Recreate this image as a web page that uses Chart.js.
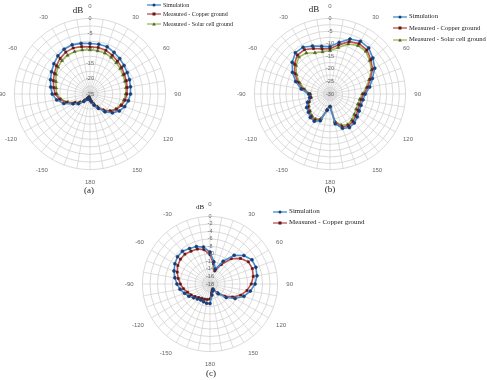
<!DOCTYPE html>
<html>
<head>
<meta charset="utf-8">
<script src="https://cdn.jsdelivr.net/npm/chart.js@4.4.1/dist/chart.umd.min.js"></script>
<style>
  body { margin: 0; background: #fff; }
  #wrap { position: relative; width: 487px; height: 380px; overflow: hidden; font-family: "Liberation Serif", serif; }
  canvas { position: absolute; }
  .t { position: absolute; transform: translate(-50%, -50%); white-space: nowrap; color: #222; line-height: 1; }
  .lg { position: absolute; white-space: nowrap; color: #222; line-height: 1; }
  .lg div { display: flex; align-items: center; }
  .lg svg { margin-right: 2px; }
</style>
</head>
<body>
<div id="wrap">
  <canvas id="pa" width="186" height="186" style="left:-3px;top:1px"></canvas>
  <canvas id="pb" width="186" height="186" style="left:237px;top:1px"></canvas>
  <canvas id="pc" width="170" height="170" style="left:125px;top:199px"></canvas>

  <div class="t" style="left:78px;top:10px;font-size:9px">dB</div>
  <div class="t" style="left:314px;top:9px;font-size:9px">dB</div>
  <div class="t" style="left:200px;top:207px;font-size:7px">dB</div>

  <div class="t" style="left:89px;top:190px;font-size:9px">(a)</div>
  <div class="t" style="left:330px;top:189px;font-size:9px">(b)</div>
  <div class="t" style="left:211px;top:373px;font-size:9px">(c)</div>

  <div class="lg" id="lga" style="left:147px;top:0px;font-size:6px"></div>
  <div class="lg" id="lgb" style="left:393px;top:11px;font-size:6.6px"></div>
  <div class="lg" id="lgc" style="left:273px;top:206px;font-size:7px"></div>
</div>
<script>
// spoke angles (degrees, clockwise from top), one per measurement
const ANGLES = [0,10,20,30,40,50,60,70,80,90,100,110,120,130,140,150,160,170,
                180,190,200,210,220,230,240,250,260,270,280,290,300,310,320,330,340,350];

// gain in dB at each angle above
const SIM_A    = [-8.3,-8.3,-8.4,-9.1,-9.7,-10.3,-10.8,-11.1,-11.4,-11.6,-12.1,-12.8,-13.8,-15.3,-17.3,-19.5,-21.0,-22.3,
                  -23.0,-23.5,-23.5,-23.0,-21.8,-20.0,-18.5,-15.8,-13.8,-12.5,-11.8,-11.1,-10.3,-9.4,-8.5,-7.9,-7.7,-8.0];
const COPPER_A = [-9.4,-9.4,-9.6,-10.2,-10.8,-11.3,-11.9,-12.2,-12.5,-12.8,-13.2,-13.9,-14.9,-16.2,-18.0,-20.0,-21.5,-22.6,
                  -23.3,-23.8,-23.8,-23.3,-22.2,-20.6,-19.2,-16.8,-14.8,-13.5,-12.8,-12.1,-11.4,-10.5,-9.6,-9.0,-8.8,-9.1];
const SOLAR_A  = [-10.4,-10.5,-10.6,-11.0,-11.5,-11.9,-12.4,-12.7,-12.9,-13.2,-13.6,-14.2,-15.1,-16.4,-18.1,-20.2,-21.6,-22.7,
                  -23.4,-23.9,-23.9,-23.4,-22.4,-20.8,-19.4,-17.2,-15.2,-14.0,-13.6,-13.0,-12.0,-11.2,-10.6,-10.2,-10.1,-10.2];

const SIM_B    = [-11.2,-9.2,-6.8,-5.8,-6.1,-7.8,-9.5,-12.1,-14.0,-16.0,-16.7,-16.9,-16.6,-15.9,-15.0,-14.6,-15.5,-18.0,
                  -25.0,-23.5,-18.7,-17.5,-17.8,-18.8,-19.3,-20.5,-21.8,-21.5,-18.4,-15.5,-12.8,-10.4,-8.6,-8.6,-9.7,-10.8];
const COPPER_B = [-12.0,-10.2,-7.9,-6.9,-7.2,-8.8,-10.5,-13.0,-14.8,-16.7,-17.4,-17.5,-17.2,-16.6,-15.8,-15.4,-16.2,-18.6,
                  -25.0,-23.6,-19.2,-18.0,-18.3,-19.2,-19.9,-21.0,-22.2,-21.9,-19.2,-16.5,-13.9,-11.6,-9.8,-9.7,-10.8,-11.8];
const SOLAR_B  = [-12.8,-11.3,-8.9,-7.8,-7.9,-9.4,-11.0,-13.5,-15.3,-17.2,-18.0,-18.2,-18.0,-17.4,-16.5,-16.0,-16.8,-19.0,
                  -25.0,-23.8,-19.6,-18.5,-18.8,-19.6,-20.3,-21.3,-22.4,-22.2,-19.8,-17.2,-14.6,-12.4,-10.8,-11.2,-12.6,-13.0];

const SIM_C    = [-9.5,-12.0,-13.8,-11.0,-8.0,-6.2,-5.1,-5.0,-5.3,-6.0,-7.1,-8.4,-10.3,-12.4,-14.6,-16.3,-16.0,-15.0,
                  -12.8,-12.8,-13.0,-13.1,-12.8,-12.3,-11.5,-10.8,-9.9,-9.2,-8.5,-7.8,-7.2,-6.7,-6.6,-7.1,-7.4,-8.0];
const COPPER_C = [-10.2,-12.6,-14.3,-12.0,-9.2,-7.4,-6.2,-6.0,-6.3,-7.0,-8.0,-9.3,-11.1,-13.0,-15.0,-16.5,-16.3,-15.6,
                  -14.0,-13.8,-13.7,-13.6,-13.3,-12.8,-12.2,-11.6,-10.8,-10.1,-9.4,-8.7,-8.1,-7.7,-7.6,-7.9,-8.1,-8.7];

const NAMES = ['Simulation', 'Measured - Copper ground', 'Measured - Solar cell ground'];
const LINE = ['#3f8fd2', '#c0504d', '#9bbb59'];
const MARK = ['#1f3b73', '#5e1717', '#4f6228'];
const SHAPE = ['circle', 'rect', 'triangle'];

function polar(id, min, step, every, series) {
  const datasets = series.map((s, i) => ({
    label: NAMES[i],
    data: s,
    borderColor: LINE[i],
    borderWidth: 1.6,
    backgroundColor: 'transparent',
    fill: false,
    pointStyle: SHAPE[i],
    pointRadius: i == 2 ? 1.8 : 1.5,
    pointBackgroundColor: MARK[i],
    pointBorderColor: MARK[i],
    pointBorderWidth: 0.6
  }));
  return new Chart(document.getElementById(id), {
    type: 'radar',
    data: { labels: ANGLES, datasets: datasets },
    options: {
      responsive: false,
      animation: false,
      devicePixelRatio: 1,
      plugins: { legend: { display: false }, tooltip: { enabled: false } },
      scales: {
        r: {
          min: min,
          max: 0,
          beginAtZero: false,
          angleLines: { color: '#d0d0d0', lineWidth: 0.7 },
          grid: { circular: true, color: '#d0d0d0', lineWidth: 0.8 },
          ticks: {
            stepSize: step,
            showLabelBackdrop: false,
            color: '#666',
            font: { family: 'Liberation Sans', size: 5.5 },
            callback: v => (Math.abs(v % every) < 1e-6 ? String(v) : '')
          },
          pointLabels: {
            color: '#666',
            padding: 4,
            font: { family: 'Liberation Sans', size: 6 },
            callback: a => (a % 30 ? '' : String(a > 180 ? a - 360 : a))
          }
        }
      }
    }
  });
}

polar('pa', -25, 2.5, 5, [SIM_A, COPPER_A, SOLAR_A]);
polar('pb', -30, 2.5, 5, [SIM_B, COPPER_B, SOLAR_B]);
polar('pc', -18, 2, 2, [SIM_C, COPPER_C]);

function legend(id, n, rowH) {
  const box = document.getElementById(id);
  for (let i = 0; i < n; i++) {
    const mark = SHAPE[i] == 'rect'
      ? '<rect x="5.5" y="1.5" width="3" height="3" fill="' + MARK[i] + '"/>'
      : SHAPE[i] == 'triangle'
        ? '<polygon points="7,1.3 8.8,4.5 5.2,4.5" fill="' + MARK[i] + '"/>'
        : '<circle cx="7" cy="3" r="1.5" fill="' + MARK[i] + '"/>';
    box.innerHTML += '<div style="height:' + rowH + 'px"><svg width="14" height="6"><line x1="0" y1="3" x2="14" y2="3" stroke="' +
      LINE[i] + '" stroke-width="1.3"/>' + mark + '</svg>' + NAMES[i] + '</div>';
  }
}
legend('lga', 3, 9.5);
legend('lgb', 3, 11.5);
legend('lgc', 2, 11);
</script>
</body>
</html>
